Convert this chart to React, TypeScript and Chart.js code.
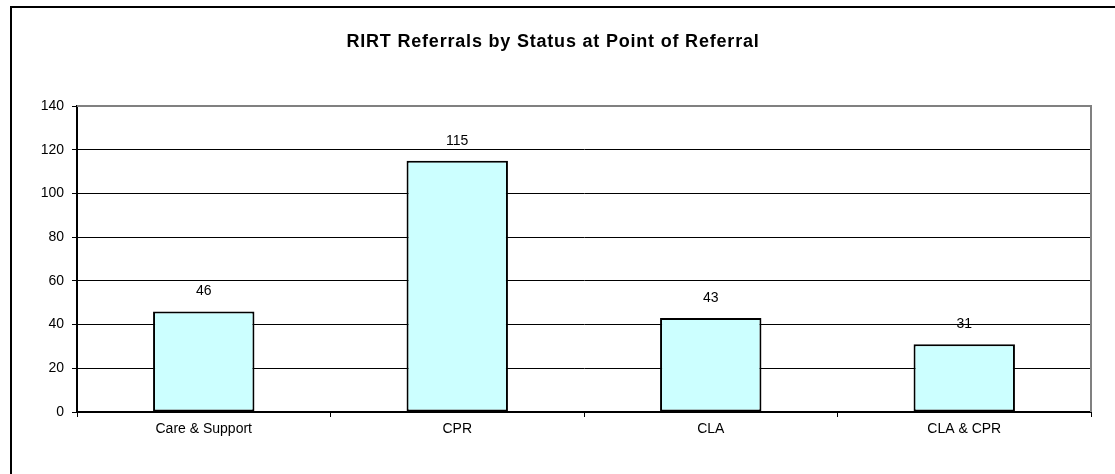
import React, { useEffect, useRef } from "react";
import { Chart, registerables } from "chart.js";

Chart.register(...registerables);

const TITLE = "RIRT Referrals by Status at Point of Referral";
const categories = ["Care & Support", "CPR", "CLA", "CLA & CPR"];
const referrals = [46, 115, 43, 31];
const yTicks = [0, 20, 40, 60, 80, 100, 120, 140];

const FONT = '"Liberation Sans", Arial, sans-serif';

const framePlugin = {
  id: "frame",
  afterDraw(chart: any) {
    const { ctx, chartArea } = chart;
    ctx.save();
    // plot area top/right gray border
    ctx.strokeStyle = "#808080";
    ctx.lineWidth = 2;
    ctx.beginPath();
    ctx.moveTo(chartArea.left, chartArea.top);
    ctx.lineTo(chartArea.right, chartArea.top);
    ctx.lineTo(chartArea.right, chartArea.bottom);
    ctx.stroke();
    // title
    ctx.fillStyle = "#000";
    ctx.font = `bold 18px ${FONT}`;
    (ctx as any).letterSpacing = "0.8px";
    ctx.textAlign = "center";
    ctx.textBaseline = "middle";
    ctx.fillText(TITLE, 553, 42);
    (ctx as any).letterSpacing = "0px";
    // value labels
    ctx.font = `14px ${FONT}`;
    const meta = chart.getDatasetMeta(0);
    meta.data.forEach((bar: any, i: number) => {
      ctx.fillText(String(chart.data.datasets[0].data[i]), bar.x, bar.y - 20);
    });
    ctx.restore();
  },
};

export default function App() {
  const ref = useRef<HTMLCanvasElement>(null);
  useEffect(() => {
    if (!ref.current) return;
    const chart = new Chart(ref.current, {
      type: "bar",
      data: {
        labels: categories,
        datasets: [
          {
            data: referrals,
            backgroundColor: "#CCFFFF",
            borderColor: "#000000",
            borderWidth: 2,
            borderSkipped: false,
            barPercentage: 0.4,
            categoryPercentage: 1,
          },
        ],
      },
      options: {
        responsive: false,
        animation: false,
        devicePixelRatio: 1,
        layout: { padding: { top: 106, right: 24, left: 0, bottom: 0 } },
        plugins: {
          legend: { display: false },
          title: { display: false },
          tooltip: { enabled: false },
        },
        scales: {
          x: {
            offset: true,
            grid: {
              offset: true,
              drawOnChartArea: false,
              drawTicks: true,
              tickLength: 5,
              color: "#000",
            },
            border: { color: "#000", width: 2 },
            ticks: {
              color: "#000",
              font: { family: FONT, size: 14 },
              padding: 4,
              maxRotation: 0,
              autoSkip: false,
            },
            afterFit(scale: any) {
              scale.height = 62;
            },
          },
          y: {
            min: 0,
            max: 140,
            afterBuildTicks(scale: any) {
              scale.ticks = yTicks.map((v) => ({ value: v }));
            },
            grid: {
              color: (c: any) => (c.tick && c.tick.value === 140 ? "#808080" : "#000"),
              lineWidth: 1,
              tickLength: 5,
              tickColor: "#000",
            },
            border: { color: "#000", width: 2 },
            ticks: {
              color: "#000",
              font: { family: FONT, size: 14 },
              padding: 8,
            },
            afterFit(scale: any) {
              scale.width = 77;
            },
          },
        },
      },
      plugins: [framePlugin],
    });
    return () => chart.destroy();
  }, []);

  return (
    <div
      style={{
        position: "absolute",
        left: 0,
        top: 0,
        width: 1115,
        height: 474,
        overflow: "hidden",
        background: "#fff",
      }}
    >
      <div
        style={{
          position: "absolute",
          left: 10,
          top: 6,
          width: 3000,
          height: 3000,
          borderLeft: "2px solid #000",
          borderTop: "2px solid #000",
          boxSizing: "border-box",
        }}
      />
      <canvas
        ref={ref}
        width={1115}
        height={474}
        style={{ position: "absolute", left: 0, top: 0, width: 1115, height: 474 }}
      />
    </div>
  );
}
